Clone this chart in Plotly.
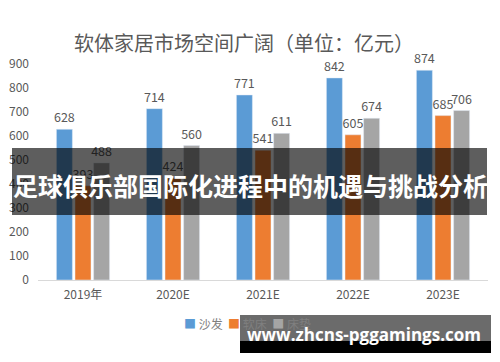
import plotly.graph_objects as go

categories = ["2019年", "2020E", "2021E", "2022E", "2023E"]
sofa = [628, 714, 771, 842, 874]
soft_bed = [393, 424, 541, 605, 685]
mattress = [488, 560, 611, 674, 706]
series_names = ["沙发", "软床", "床垫"]
colors = ["#5b9bd5", "#ed7d31", "#a5a5a5"]

fig = go.Figure()
for name, vals, col in zip(series_names, [sofa, soft_bed, mattress], colors):
    fig.add_trace(go.Bar(
        x=categories, y=vals, name=name, marker_color=col,
        text=[str(v) for v in vals], textposition="outside", constraintext="none",
        textfont=dict(size=12.5, color="#595959"), cliponaxis=False,
    ))

# page body has an 8px margin: work in window pixels, convert to figure pixels
D = 8
W, H = 500 - D, 362 - D
L, T = 38 - D, 64 - D
pw, ph = 450, 216
R, B = W - L - pw, H - T - ph

def px(x):
    return (x - D - L) / pw

def py(y):
    return (T + ph - (y - D)) / ph

fig.update_layout(
    width=W, height=H,
    margin=dict(l=L, r=R, t=T, b=B, autoexpand=False),
    paper_bgcolor="white", plot_bgcolor="white",
    font=dict(family="Noto Sans CJK SC, Liberation Sans, sans-serif", color="#595959"),
    barmode="group", bargap=0.38, bargroupgap=0.14,
    showlegend=False,
    xaxis=dict(showgrid=False, showline=True, linecolor="#d9d9d9", linewidth=1, automargin=False,
               ticks="", tickfont=dict(size=12, color="#595959"), ticklabelstandoff=4),
    yaxis=dict(range=[0, 900], dtick=100, showgrid=False, zeroline=False, showline=False,
               automargin=False, ticks="", tickfont=dict(size=12, color="#595959"),
               ticklabelstandoff=8),
)

def note(text, x, y, size, color, xanchor="center", family="Noto Sans CJK SC, sans-serif"):
    fig.add_annotation(text=text, xref="paper", yref="paper", x=px(x), y=py(y),
                       xanchor=xanchor, yanchor="middle", showarrow=False,
                       font=dict(size=size, color=color, family=family))

# title
note("软体家居市场空间广阔（单位：亿元）", 244, 42, 20, "#595959")

# legend (text)
legend_text = "  ".join(
    f"<span style='color:{c}'>■</span> {n}" for n, c in zip(series_names, colors))
note(legend_text, 182, 323, 12, "#7f7f7f", xanchor="left")

# banner overlay
fig.add_shape(type="rect", xref="paper", yref="paper", x0=px(12), x1=px(487),
              y0=py(148), y1=py(215), fillcolor="rgba(0,0,0,0.63)", line_width=0, layer="above")
note("<b>足球俱乐部国际化进程中的机遇与挑战分析</b>", 250, 185, 25, "white")

# watermark
fig.add_shape(type="rect", xref="paper", yref="paper", x0=px(240), x1=px(491),
              y0=py(315), y1=py(341), fillcolor="rgba(0,0,0,0.58)", line_width=0, layer="above")
fig.add_shape(type="rect", xref="paper", yref="paper", x0=px(240), x1=px(491),
              y0=py(341), y1=py(353), fillcolor="black", line_width=0, layer="above")
note("<b>www.zhcns-pggamings.com</b>", 364, 334, 17, "white", family="Open Sans, sans-serif")

fig.write_html("out.html")
